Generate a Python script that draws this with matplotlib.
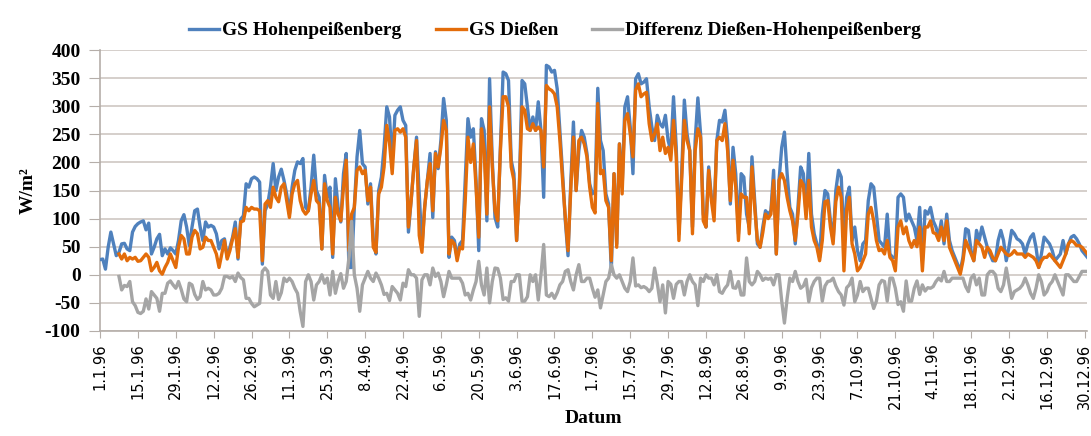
import numpy as np
import matplotlib.pyplot as plt

# Tagesmittel der Globalstrahlung 1996 (W/m²), Tag 0 = 1.1.96
hohenpeissenberg = [
    27, 28, 10, 49, 76, 55, 34, 40, 55, 56,
    46, 43, 76, 86, 91, 94, 96, 80, 92, 37,
    49, 64, 72, 34, 46, 37, 48, 43, 37, 61,
    96, 107, 85, 52, 85, 114, 117, 85, 61, 94,
    85, 88, 85, 73, 46, 61, 64, 31, 49, 67,
    94, 28, 99, 105, 162, 156, 171, 174, 171, 165,
    19, 114, 126, 156, 198, 150, 174, 188, 168, 144,
    108, 156, 186, 201, 198, 207, 120, 114, 156, 213,
    150, 138, 46, 177, 138, 156, 31, 171, 120, 94,
    180, 216, 13, 13, 120, 210, 257, 198, 192, 126,
    162, 61, 37, 150, 174, 227, 299, 281, 201, 284,
    293, 299, 275, 266, 76, 132, 192, 245, 144, 49,
    120, 168, 216, 102, 219, 189, 239, 314, 275, 31,
    67, 61, 31, 55, 61, 168, 278, 245, 260, 168,
    43, 278, 257, 96, 349, 204, 102, 85, 227, 361,
    358, 346, 204, 180, 61, 156, 346, 340, 299, 257,
    281, 257, 308, 257, 138, 373, 370, 361, 364, 331,
    257, 180, 96, 34, 162, 272, 150, 221, 257, 245,
    216, 162, 144, 150, 332, 239, 221, 144, 126, 7,
    180, 55, 233, 156, 299, 317, 263, 180, 349, 358,
    340, 343, 349, 299, 263, 239, 284, 269, 263, 284,
    239, 221, 317, 227, 73, 180, 311, 251, 221, 85,
    239, 315, 251, 108, 85, 192, 138, 114, 239, 275,
    272, 293, 239, 126, 227, 180, 73, 180, 174, 108,
    85, 210, 132, 55, 49, 85, 114, 108, 114, 186,
    37, 168, 227, 254, 180, 120, 108, 55, 120, 192,
    180, 108, 216, 108, 73, 55, 31, 108, 150, 144,
    96, 61, 150, 186, 174, 61, 138, 156, 61, 85,
    43, 25, 55, 61, 132, 162, 156, 108, 61, 55,
    49, 108, 37, 31, 31, 138, 144, 138, 96, 108,
    96, 85, 61, 120, 25, 114, 108, 120, 96, 85,
    67, 96, 55, 108, 61, 43, 31, 19, 7, 31,
    82, 79, 43, 25, 79, 61, 85, 67, 49, 37,
    25, 25, 61, 79, 61, 25, 49, 79, 73, 64,
    61, 55, 37, 55, 67, 73, 49, 13, 37, 67,
    61, 55, 43, 25, 31, 37, 61, 37, 55, 67,
    70, 64, 55, 43, 37, 31,
]

nan = np.nan
diessen = [
    nan, nan, nan, nan, nan, nan, nan, 37, 28, 37,
    25, 31, 28, 31, 24, 25, 31, 37, 31, 7,
    13, 22, 7, 1, 13, 22, 37, 25, 13, 49,
    70, 64, 37, 37, 67, 79, 73, 46, 49, 67,
    61, 61, 49, 37, 13, 37, 61, 28, 43, 64,
    82, 31, 94, 96, 120, 114, 120, 117, 117, 114,
    25, 126, 132, 120, 156, 138, 130, 156, 162, 132,
    102, 144, 162, 168, 132, 115, 108, 114, 144, 168,
    132, 126, 46, 162, 132, 120, 37, 138, 108, 96,
    156, 204, 43, 108, 120, 186, 192, 180, 186, 132,
    156, 49, 40, 144, 156, 192, 266, 235, 180, 257,
    260, 254, 260, 245, 85, 132, 192, 239, 70, 40,
    120, 168, 198, 114, 216, 192, 227, 275, 257, 37,
    61, 55, 25, 49, 46, 132, 245, 200, 233, 156,
    67, 260, 221, 108, 299, 192, 114, 96, 221, 317,
    317, 299, 192, 168, 61, 156, 299, 293, 260, 257,
    269, 257, 263, 257, 192, 337, 331, 328, 322, 299,
    239, 168, 102, 43, 150, 245, 150, 239, 245, 233,
    210, 156, 120, 110, 305, 180, 186, 132, 120, 25,
    180, 49, 233, 144, 275, 287, 251, 210, 329, 340,
    317, 322, 325, 269, 239, 251, 269, 221, 245, 216,
    227, 204, 275, 210, 61, 168, 275, 239, 221, 73,
    221, 260, 245, 96, 85, 186, 132, 96, 239, 245,
    239, 269, 221, 132, 204, 156, 61, 144, 138, 138,
    73, 192, 120, 61, 49, 75, 108, 100, 108, 168,
    37, 168, 180, 168, 138, 114, 96, 61, 108, 168,
    160, 100, 168, 85, 61, 49, 25, 61, 130, 132,
    85, 55, 130, 156, 138, 7, 115, 138, 55, 37,
    7, 13, 25, 37, 108, 120, 96, 61, 43, 45,
    37, 61, 31, 25, 7, 85, 96, 73, 85, 61,
    49, 61, 50, 85, 7, 85, 85, 96, 75, 73,
    61, 85, 61, 96, 49, 37, 25, 13, 1, 25,
    61, 49, 37, 25, 61, 55, 49, 31, 49, 43,
    31, 25, 37, 49, 43, 37, 34, 37, 43, 37,
    37, 37, 31, 37, 34, 31, 25, 13, 25, 31,
    31, 37, 31, 25, 19, 13, 25, 37, 55, 61,
    58, 52, 52, 49, 43, 37,
]

tick_labels = ["1.1.96", "15.1.96", "29.1.96", "12.2.96", "26.2.96", "11.3.96",
               "25.3.96", "8.4.96", "22.4.96", "6.5.96", "20.5.96", "3.6.96",
               "17.6.96", "1.7.96", "15.7.96", "29.7.96", "12.8.96", "26.8.96",
               "9.9.96", "23.9.96", "7.10.96", "21.10.96", "4.11.96", "18.11.96",
               "2.12.96", "16.12.96", "30.12.96"]

hp = np.array(hohenpeissenberg, dtype=float)
di = np.array(diessen, dtype=float)
diff = di - hp
days = np.arange(len(hp))

plt.rcParams['font.family'] = ['Liberation Serif', 'DejaVu Serif']
plt.rcParams['font.weight'] = 'bold'
plt.rcParams['axes.unicode_minus'] = False

fig = plt.figure(figsize=(10.91, 4.36), dpi=100)
ax = fig.add_axes([0.0917, 0.241, 0.905, 0.644])

ax.plot(days, hp, color='#4F81BD', lw=2.4, label='GS Hohenpeißenberg', zorder=3)
ax.plot(days, di, color='#E36C0A', lw=2.4, label='GS Dießen', zorder=4)
ax.plot(days, diff, color='#A5A5A5', lw=2.4, label='Differenz Dießen-Hohenpeißenberg', zorder=5)

ax.set_xlim(0, 365)
ax.set_ylim(-100, 400)
ax.set_yticks(np.arange(-100, 401, 50))
ax.set_xticks(np.arange(0, 365, 14))
ax.set_xticklabels(tick_labels, rotation=90, fontsize=10.5,
                   family=['DejaVu Sans'], fontweight='normal')
ax.tick_params(axis='y', labelsize=14, length=8, color='#B5AEA9', pad=6)
ax.tick_params(axis='x', length=5, color='#B5AEA9', pad=4)

ax.grid(axis='y', color='#D5CFCB', lw=1.4)
ax.set_axisbelow(True)
for side in ['top', 'right']:
    ax.spines[side].set_visible(False)
for side in ['left', 'bottom']:
    ax.spines[side].set_color('#B5AEA9')
    ax.spines[side].set_linewidth(1.2)

ax.set_ylabel('W/m²', fontsize=14, fontweight='bold', labelpad=6)
ax.set_xlabel('Datum', fontsize=14, fontweight='bold', labelpad=1)

ax.legend(loc='lower center', bbox_to_anchor=(0.461, 1.0), ncol=3, frameon=False,
          prop={'size': 14, 'weight': 'bold'}, handlelength=1.55,
          columnspacing=1.75, handletextpad=0.15, borderaxespad=0.15)

fig.savefig('out.png', dpi=100)
